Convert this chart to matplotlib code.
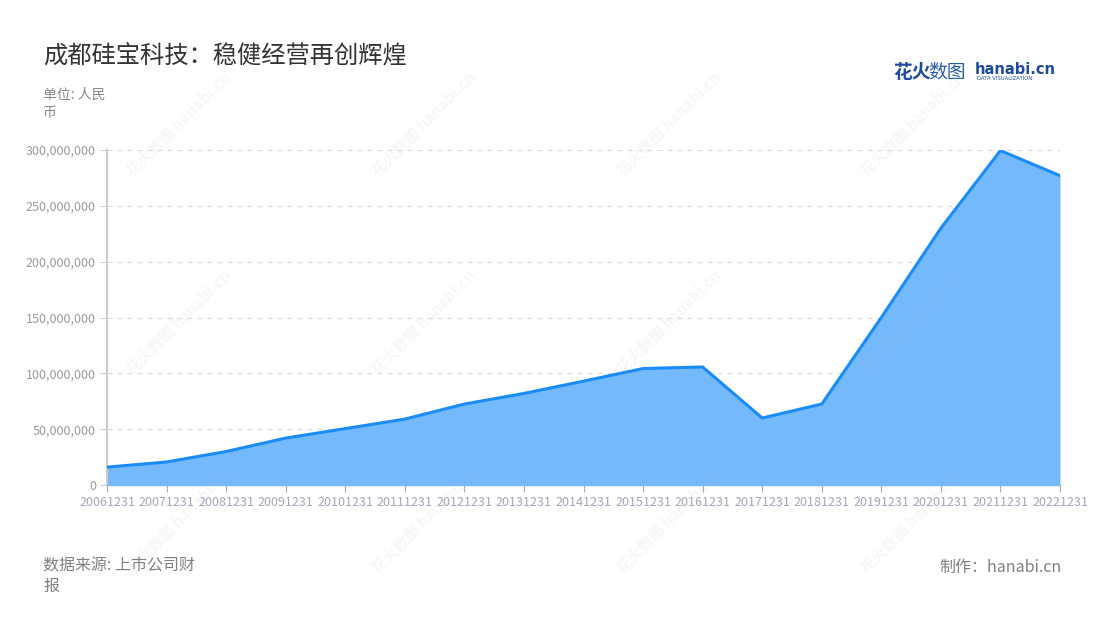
import matplotlib

matplotlib.use("Agg")
import matplotlib.pyplot as plt
from matplotlib.ticker import FuncFormatter

plt.rcParams["font.family"] = ["Noto Sans CJK SC", "DejaVu Sans"]

# --- data ---
periods = [
    "20061231", "20071231", "20081231", "20091231", "20101231", "20111231",
    "20121231", "20131231", "20141231", "20151231", "20161231", "20171231",
    "20181231", "20191231", "20201231", "20211231", "20221231",
]
revenue = [
    16.0e6, 20.6e6, 30.0e6, 42.0e6, 50.5e6, 59.0e6,
    72.5e6, 82.0e6, 93.0e6, 104.3e6, 105.7e6, 60.0e6,
    72.5e6, 150.0e6, 230.0e6, 299.5e6, 277.0e6,
]
yticks = [0, 50e6, 100e6, 150e6, 200e6, 250e6, 300e6]

title = "成都硅宝科技：稳健经营再创辉煌"
unit = "单位: 人民\n币"
source = "数据来源: 上市公司财\n报"
credit = "制作：hanabi.cn"

line_color = "#1a8cf7"
fill_color = "#74b9fc"

fig = plt.figure(figsize=(11, 6.2), dpi=100)
ax = fig.add_axes([107 / 1100, 1 - 485 / 620, (1060 - 107) / 1100, (485 - 150) / 620])

# faint watermarks
for wx in [0.163, 0.385, 0.608, 0.83]:
    for wy in [0.80, 0.48, 0.16]:
        fig.text(wx, wy, "花火数图 hanabi.cn", rotation=45, fontsize=11,
                 color="#bbbbbb", alpha=0.12, ha="center", va="center",
                 zorder=5, fontweight="bold")

x = list(range(len(periods)))
ax.fill_between(x, revenue, 0, color=fill_color, zorder=2, linewidth=0)
ax.plot(x, revenue, color=line_color, linewidth=2.2, zorder=3,
        solid_joinstyle="miter")

ax.set_xlim(0, len(periods) - 1)
ax.set_ylim(0, 300e6)
ax.set_xticks(x)
ax.set_xticklabels(periods)
ax.set_yticks(yticks)
ax.yaxis.set_major_formatter(FuncFormatter(lambda v, _: f"{int(v):,}"))

ax.grid(axis="y", color="#dddddd", linestyle=(0, (4, 4)), linewidth=0.9, zorder=1)
ax.set_axisbelow(True)
ax.patch.set_alpha(0)
for s in ["top", "right"]:
    ax.spines[s].set_visible(False)
ax.spines["left"].set_color("#cccccc")
ax.spines["left"].set_linewidth(1.5)
ax.spines["bottom"].set_color("#7fb8f0")
ax.spines["bottom"].set_linewidth(1.0)

ax.tick_params(axis="x", colors="#aaaaaa", labelcolor="#a3a6b8", labelsize=9,
               length=5, pad=3)
ax.tick_params(axis="y", colors="#cccccc", labelcolor="#999999", labelsize=9,
               length=5, pad=3)

# texts
fig.text(43 / 1100, 1 - 55 / 620, title, fontsize=17.5, color="#333333",
         va="center", ha="left")
fig.text(43 / 1100, 1 - 88 / 620, unit, fontsize=10, color="#888888",
         va="top", ha="left", linespacing=1.35)
fig.text(43 / 1100, 1 - 557 / 620, source, fontsize=11.5, color="#808080",
         va="top", ha="left", linespacing=1.3)
fig.text(1062 / 1100, 1 - 567 / 620, credit, fontsize=11.5, color="#808080",
         va="center", ha="right")

# logo
fig.text(893 / 1100, 1 - 72 / 620, "花火", fontsize=13.5, color="#1d4b9a",
         fontweight="bold", va="center", ha="left")
fig.text(928 / 1100, 1 - 72 / 620, "数图", fontsize=13.5, color="#2a5caa",
         va="center", ha="left")
fig.text(975 / 1100, 1 - 70 / 620, "hanabi.cn", fontsize=10.5, color="#1d4b9a",
         fontweight="bold", va="center", ha="left", family="DejaVu Sans")
fig.text(977 / 1100, 1 - 79 / 620, "DATA VISUALIZATION", fontsize=3.8,
         color="#1d4b9a", va="center", ha="left", family="DejaVu Sans")

fig.savefig("out.png", dpi=100)
